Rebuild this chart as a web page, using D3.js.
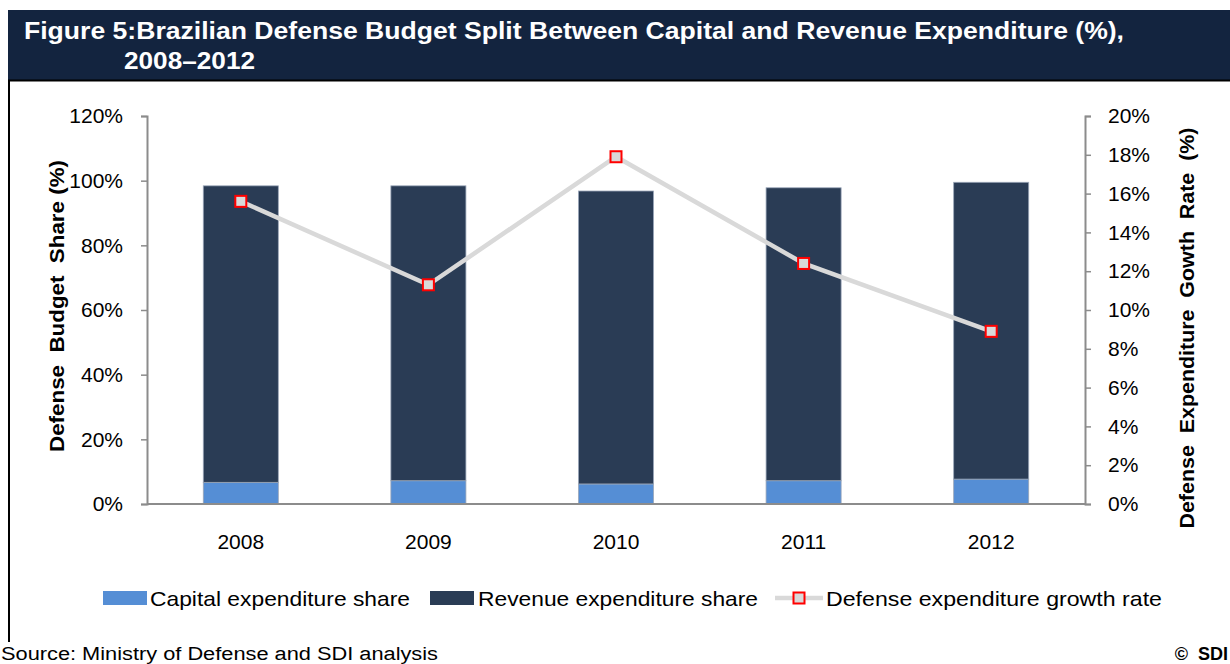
<!DOCTYPE html>
<html>
<head>
<meta charset="utf-8">
<script src="https://cdn.jsdelivr.net/npm/d3@7"></script>
<style>
  html, body { margin: 0; padding: 0; background: #fff; }
  svg { display: block; font-family: Arial, "Liberation Sans", sans-serif; }
  text { white-space: pre; }
</style>
</head>
<body>
<svg id="chart" width="1230" height="664"></svg>
<script>
// Brazilian defense budget split, 2008–2012
const years = ["2008", "2009", "2010", "2011", "2012"];
const capitalShare = [6.7, 7.2, 6.2, 7.2, 7.7];      // % of budget
const revenueShare = [91.7, 91.2, 90.6, 90.6, 91.8]; // % of budget
const growthRate = [15.6, 11.3, 17.9, 12.4, 8.9];    // % year-on-year
const leftTicks = [0, 20, 40, 60, 80, 100, 120];
const rightTicks = [0, 2, 4, 6, 8, 10, 12, 14, 16, 18, 20];

const svg = d3.select("#chart");
const navy = "#13243f";
const capColor = "#558ed5";
const revColor = "#2a3c55";
const axisGray = "#8c8c8c";

// Fit a text element to a given width
function fit(sel, w) {
  sel.attr("textLength", w).attr("lengthAdjust", "spacingAndGlyphs");
  return sel;
}

// Header band
svg.append("rect").attr("x", 8).attr("y", 10).attr("width", 1222).attr("height", 70).attr("fill", navy);
fit(svg.append("text").attr("x", 24).attr("y", 39).attr("fill", "#fff")
  .attr("font-weight", "bold").attr("font-size", 23)
  .text("Figure 5:Brazilian Defense Budget Split Between Capital and Revenue Expenditure (%),"), 1100);
fit(svg.append("text").attr("x", 124).attr("y", 69).attr("fill", "#fff")
  .attr("font-weight", "bold").attr("font-size", 23)
  .text("2008\u20132012"), 131);

// Frame lines
svg.append("line").attr("x1", 8).attr("x2", 1230).attr("y1", 80.5).attr("y2", 80.5).attr("stroke", "#000").attr("stroke-width", 2);
svg.append("line").attr("x1", 9).attr("x2", 9).attr("y1", 80).attr("y2", 642).attr("stroke", "#000").attr("stroke-width", 2);

// Scales
const x = d3.scaleBand().domain(years).range([147, 1085]).paddingInner(0.6).paddingOuter(0.3);
const yL = d3.scaleLinear().domain([0, 120]).range([504, 116]);
const yR = d3.scaleLinear().domain([0, 20]).range([504, 116]);

// Stacked bars
const rows = years.map((y, i) => ({ year: y, capital: capitalShare[i], revenue: revenueShare[i] }));
const stack = d3.stack().keys(["capital", "revenue"])(rows);
const colors = { capital: capColor, revenue: revColor };

svg.append("g").selectAll("g").data(stack).join("g")
  .attr("fill", d => colors[d.key])
  .selectAll("rect").data(d => d).join("rect")
  .attr("x", d => x(d.data.year))
  .attr("width", x.bandwidth())
  .attr("y", d => yL(d[1]))
  .attr("height", d => yL(d[0]) - yL(d[1]))
  .attr("stroke", "#9aa6b8").attr("stroke-width", 0.8);

// Axes
const fmtPct = d => d + "%";
const gL = svg.append("g").attr("transform", "translate(147,0)")
  .call(d3.axisLeft(yL).tickValues(leftTicks).tickFormat(fmtPct).tickSize(6).tickPadding(18));
const gR = svg.append("g").attr("transform", "translate(1085,0)")
  .call(d3.axisRight(yR).tickValues(rightTicks).tickFormat(fmtPct).tickSize(6).tickPadding(17));
const gB = svg.append("g").attr("transform", "translate(0,504)")
  .call(d3.axisBottom(x).tickSize(0).tickPadding(30));
gB.select(".domain").attr("d", "M147,0H1085");

[gL, gR, gB].forEach(g => {
  g.select(".domain").attr("stroke", axisGray).attr("stroke-width", 2);
  g.selectAll(".tick line").attr("stroke", axisGray).attr("stroke-width", 1.5);
  g.selectAll(".tick text").attr("fill", "#000").attr("font-size", 21)
    .attr("font-family", "Arial, 'Liberation Sans', sans-serif");
});

// Axis titles
fit(svg.append("text").attr("transform", "translate(64,306) rotate(-90)")
  .attr("text-anchor", "middle").attr("font-weight", "bold").attr("font-size", 20)
  .text("Defense  Budget  Share (%)"), 292);
fit(svg.append("text").attr("transform", "translate(1194,328) rotate(-90)")
  .attr("text-anchor", "middle").attr("font-weight", "bold").attr("font-size", 20)
  .text("Defense  Expenditure  Gowth  Rate  (%)"), 401);

// Growth-rate line with square markers
const line = d3.line().x((d, i) => x(years[i]) + x.bandwidth() / 2).y(d => yR(d));
svg.append("path").datum(growthRate).attr("d", line)
  .attr("fill", "none").attr("stroke", "#d9d9d9").attr("stroke-width", 4.5);
const ms = 11;
svg.append("g").selectAll("rect").data(growthRate).join("rect")
  .attr("x", (d, i) => x(years[i]) + x.bandwidth() / 2 - ms / 2)
  .attr("y", d => yR(d) - ms / 2)
  .attr("width", ms).attr("height", ms)
  .attr("fill", "#d9d9d9").attr("stroke", "#ff0000").attr("stroke-width", 2);

// Legend
const ly = 598;
svg.append("rect").attr("x", 103).attr("y", ly - 7).attr("width", 44).attr("height", 14).attr("fill", capColor);
fit(svg.append("text").attr("x", 150).attr("y", ly + 8).attr("font-size", 21).text("Capital expenditure share"), 260);
svg.append("rect").attr("x", 430).attr("y", ly - 7).attr("width", 44).attr("height", 14).attr("fill", revColor);
fit(svg.append("text").attr("x", 478).attr("y", ly + 8).attr("font-size", 21).text("Revenue expenditure share"), 280);
svg.append("line").attr("x1", 775).attr("x2", 823).attr("y1", ly).attr("y2", ly)
  .attr("stroke", "#d9d9d9").attr("stroke-width", 4.5);
svg.append("rect").attr("x", 799 - ms / 2).attr("y", ly - ms / 2).attr("width", ms).attr("height", ms)
  .attr("fill", "#d9d9d9").attr("stroke", "#ff0000").attr("stroke-width", 2);
fit(svg.append("text").attr("x", 826).attr("y", ly + 8).attr("font-size", 21).text("Defense expenditure growth rate"), 336);

// Footer
fit(svg.append("text").attr("x", 1).attr("y", 660).attr("font-size", 18).text("Source: Ministry of Defense and SDI analysis"), 437);
svg.append("text").attr("x", 1228).attr("y", 660).attr("text-anchor", "end")
  .attr("font-size", 18).attr("font-weight", "bold").text("\u00a9  SDI");
</script>
</body>
</html>
